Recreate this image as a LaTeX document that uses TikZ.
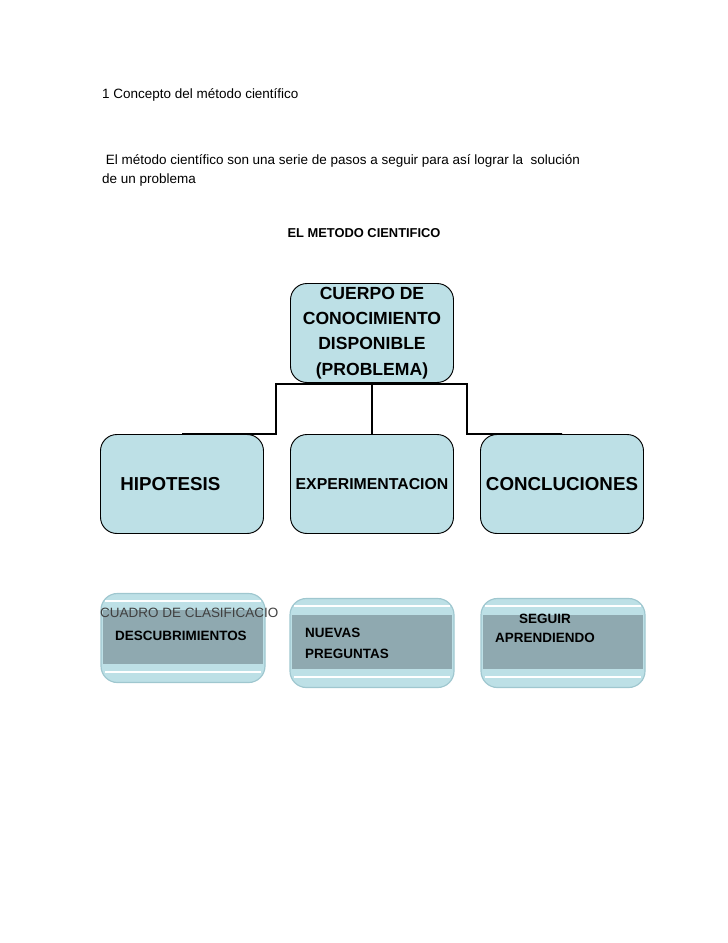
\documentclass[tikz,border=0pt]{standalone}
\usepackage{fontspec}
\setmainfont{Liberation Sans}
\definecolor{myblue}{HTML}{BDE0E6}
\definecolor{myband}{HTML}{8FA9B0}
\definecolor{myedge}{HTML}{9FC7CF}
\tikzset{
  caja/.style={draw, line width=0.8pt, rounded corners=14pt, fill=myblue, minimum width=163*0.03cm, minimum height=99*0.03cm, align=center},
  conn/.style={line width=1.6pt},
  texto/.style={anchor=west, font=\fontsize{11.5}{14}\selectfont, inner sep=0pt},
}

\begin{document}
\begin{tikzpicture}[x=0.03cm, y=-0.03cm]
            \useasboundingbox (0,0) rectangle (728,943);

            \node[texto] (tit) at (102, 95) {1 Concepto del método científico};
            \node[texto] (par1) at (102, 161) {\ El método científico son una serie de pasos a seguir para así lograr la\ \ solución};
            \node[texto] (par2) at (102, 180) {de un problema};
            \node[font=\fontsize{11}{13}\selectfont\bfseries] (head) at (364, 233) {EL METODO CIENTIFICO};

            \node[caja, font=\fontsize{15}{21.5}\selectfont\bfseries, inner sep=1pt] (cuerpo) at (372, 333) {CUERPO DE\\CONOCIMIENTO\\DISPONIBLE\\(PROBLEMA)};

            \node[caja, font=\fontsize{16}{19}\selectfont\bfseries] (hip) at (182, 484) {\hspace{-20pt}HIPOTESIS};
            \node[caja, font=\fontsize{13.5}{16}\selectfont\bfseries, inner sep=1pt] (exper) at (372, 484) {EXPERIMENTACION};
            \node[caja, font=\fontsize{16}{19}\selectfont\bfseries, inner sep=1pt] (concl) at (562, 484) {CONCLUCIONES};

            \draw[conn] (hip.north) -- (276, 434) -- (276, 384) -- (467, 384) -- (467, 434) -- (concl.north);
            \draw[conn] (cuerpo.south) -- (exper.north);

            % cajas inferiores
            \foreach \n/\x/\y in {descu/183/638, nuevas/372/643, seguir/563/643} {
              \node[draw=myedge, line width=1pt, fill=myblue, rounded corners=14pt, minimum width=164*0.03cm, minimum height=89*0.03cm] (\n) at (\x, \y) {};
              \fill[myband] (\x-80, \y-28) rectangle (\x+80, \y+26);
              \draw[white, line width=1.2pt] (\x-78, \y-37) -- (\x+78, \y-37) (\x-78, \y+34) -- (\x+78, \y+34);
            }
            \node[anchor=west, font=\fontsize{11.5}{14}\selectfont, inner sep=0pt, text=black!75] (cuadro) at (100, 613) {CUADRO DE CLASIFICACIO};
            \node[anchor=west, font=\fontsize{11.5}{14}\selectfont\bfseries, inner sep=0pt] (desc) at (115, 636) {DESCUBRIMIENTOS};
            \node[anchor=west, font=\fontsize{11.5}{18}\selectfont\bfseries, align=left, inner sep=0pt] (preg) at (305, 643) {NUEVAS\\PREGUNTAS};
            \node[anchor=west, font=\fontsize{11.5}{16}\selectfont\bfseries, align=center, inner sep=0pt] (apr) at (495, 628) {SEGUIR\\APRENDIENDO};
        \end{tikzpicture}
\end{document}
